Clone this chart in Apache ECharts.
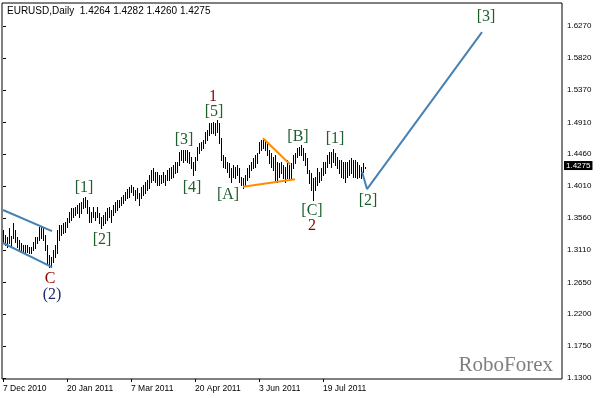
<!DOCTYPE html>
<html>
<head>
<meta charset="utf-8">
<script src="https://cdn.jsdelivr.net/npm/echarts@6/dist/echarts.min.js"></script>
<style>html,body{margin:0;padding:0;background:#fff;}#c{width:601px;height:398px;}</style>
</head>
<body>
<div id="c"></div>
<script>
// Daily bar highs / lows (EURUSD), one bar per trading day starting 7 Dec 2010
var barHigh = [
1.3389,1.3319,1.3295,1.3413,1.3305,1.3493,1.3389,1.3295,1.3248,1.3201,
1.3177,1.3177,1.3177,1.3153,1.3153,1.3224,1.3286,1.3286,1.3436,1.3436,
1.3413,1.3319,1.3177,1.3036,1.3012,1.3107,1.3177,1.3389,1.3460,1.3460,
1.3484,1.3507,1.3555,1.3648,1.3696,1.3696,1.3718,1.3742,1.3766,1.3789,
1.3837,1.3860,1.3813,1.3718,1.3648,1.3718,1.3648,1.3718,1.3625,1.3577,
1.3601,1.3648,1.3696,1.3718,1.3672,1.3742,1.3789,1.3813,1.3813,1.3860,
1.3884,1.3930,1.3968,1.4001,1.4025,1.4001,1.3954,1.3978,1.3908,1.4001,
1.4025,1.4071,1.4095,1.4166,1.4237,1.4261,1.4213,1.4213,1.4166,1.4166,
1.4213,1.4166,1.4237,1.4261,1.4283,1.4307,1.4354,1.4354,1.4495,1.4519,
1.4519,1.4519,1.4519,1.4495,1.4424,1.4354,1.4424,1.4566,1.4614,1.4636,
1.4660,1.4778,1.4801,1.4896,1.4896,1.4919,1.4896,1.4943,1.4896,1.4685,
1.4448,1.4424,1.4354,1.4331,1.4261,1.4307,1.4283,1.4307,1.4261,1.4142,
1.4120,1.4166,1.4261,1.4307,1.4354,1.4402,1.4448,1.4472,1.4636,1.4660,
1.4685,1.4660,1.4636,1.4519,1.4472,1.4424,1.4448,1.4354,1.4331,1.4354,
1.4307,1.4283,1.4378,1.4307,1.4331,1.4448,1.4472,1.4543,1.4566,1.4590,
1.4543,1.4472,1.4402,1.4237,1.4190,1.4120,1.4142,1.4261,1.4213,1.4261,
1.4354,1.4354,1.4448,1.4495,1.4495,1.4529,1.4472,1.4424,1.4378,1.4378,
1.4354,1.4354,1.4354,1.4378,1.4402,1.4378,1.4378,1.4354,1.4307,1.4283,
1.4336,1.4282
];
var barLow = [
1.3224,1.3177,1.3153,1.3201,1.3153,1.3272,1.3224,1.3153,1.3107,1.3083,
1.3060,1.3083,1.3083,1.3060,1.3060,1.3107,1.3131,1.3201,1.3248,1.3272,
1.3248,1.3107,1.2919,1.2872,1.2867,1.2942,1.3012,1.3060,1.3248,1.3319,
1.3343,1.3365,1.3436,1.3507,1.3531,1.3577,1.3601,1.3625,1.3577,1.3625,
1.3696,1.3718,1.3625,1.3507,1.3507,1.3577,1.3531,1.3577,1.3484,1.3413,
1.3460,1.3484,1.3531,1.3577,1.3507,1.3601,1.3648,1.3672,1.3718,1.3742,
1.3766,1.3813,1.3841,1.3860,1.3930,1.3884,1.3813,1.3837,1.3742,1.3837,
1.3884,1.3908,1.3954,1.3978,1.4071,1.4095,1.4071,1.4025,1.4025,1.4049,
1.4071,1.4025,1.4095,1.4095,1.4120,1.4142,1.4190,1.4213,1.4307,1.4378,
1.4354,1.4378,1.4354,1.4331,1.4261,1.4166,1.4237,1.4378,1.4472,1.4519,
1.4543,1.4614,1.4660,1.4731,1.4755,1.4755,1.4731,1.4778,1.4614,1.4378,
1.4283,1.4261,1.4213,1.4142,1.4071,1.4142,1.4120,1.4166,1.4071,1.4025,
1.3978,1.4025,1.4095,1.4142,1.4237,1.4272,1.4283,1.4331,1.4472,1.4519,
1.4543,1.4519,1.4448,1.4331,1.4283,1.4237,1.4095,1.4071,1.4142,1.4190,
1.4120,1.4071,1.4120,1.4095,1.4120,1.4261,1.4331,1.4424,1.4448,1.4448,
1.4378,1.4307,1.4190,1.4049,1.3954,1.3813,1.3954,1.4025,1.4071,1.4095,
1.4166,1.4190,1.4283,1.4331,1.4283,1.4354,1.4307,1.4261,1.4190,1.4142,
1.4120,1.4071,1.4142,1.4166,1.4190,1.4142,1.4142,1.4120,1.4142,1.4120,
1.4208,1.4260
];

// Date tick labels (bar index -> label)
var dateTicks  = [0, 32, 64, 96, 128, 160];
var dateLabels = ['7 Dec 2010', '20 Jan 2011', '7 Mar 2011', '20 Apr 2011', '3 Jun 2011', '19 Jul 2011'];

// Price axis tick labels
var priceTicks = [1.6270, 1.5820, 1.5370, 1.4910, 1.4460, 1.4010, 1.3560, 1.3110, 1.2650, 1.2200, 1.1750, 1.1300];

// Header quote
var symbolName = 'EURUSD,Daily';
var lastOHLC = [1.4264, 1.4282, 1.4260, 1.4275];

// Drawn lines (bar index, price)
var channelUpperX = [0, 24.5],   channelUpperY = [1.3672, 1.3375];
var channelLowerX = [0, 24.5],   channelLowerY = [1.3206, 1.2867];
var triangleUpperX = [130, 143.5], triangleUpperY = [1.4684, 1.4317];
var triangleLowerX = [120, 146],   triangleLowerY = [1.3999, 1.4105];
var forecastX = [179.5, 182, 239.5], forecastY = [1.4213, 1.3968, 1.6185];

// Wave labels (bar index, price, text, kind)
var waveX    = [40.5, 49.5, 90.5, 94.5, 105.5, 105, 112.5, 147.5, 154.5, 154.5, 166, 182.5, 241.5, 23.5, 24.5];
var waveY    = [1.3990, 1.3248, 1.4660, 1.3990, 1.5056, 1.5267, 1.3884, 1.4710, 1.3665, 1.3446, 1.4680, 1.3806, 1.6397, 1.2705, 1.2480];
var waveText = ['[1]', '[2]', '[3]', '[4]', '[5]', '1', '[A]', '[B]', '[C]', '2', '[1]', '[2]', '[3]', 'C', '(2)'];
var waveKind = ['g', 'g', 'g', 'g', 'g', 'r', 'g', 'g', 'g', 'r', 'g', 'g', 'g', 'r', 'b'];

function pairs(xs, ys) { return xs.map(function (x, k) { return [x, ys[k]]; }); }

var bars = barHigh.map(function (h, i) { return [i, h, barLow[i]]; });

var kindStyle = {
  g: { color: '#1d5e2c', textShadowColor: '#c9a400', textShadowOffsetX: -1, textShadowOffsetY: 0, textShadowBlur: 0 },
  r: { color: '#8b0000' },
  b: { color: '#1c2a6b' }
};
var waveData = waveX.map(function (x, k) {
  var st = kindStyle[waveKind[k]];
  var lab = { show: true, formatter: waveText[k], position: 'inside', fontFamily: 'Liberation Serif', fontSize: 16, opacity: 1 };
  for (var key in st) lab[key] = st[key];
  return { value: [x, waveY[k]], label: lab };
});

var chart = echarts.init(document.getElementById('c'), null, { renderer: 'canvas' });
var lineBlue = '#4682b4';
chart.setOption({
  animation: false,
  backgroundColor: '#fff',
  grid: { left: 2, right: 39, top: 3, bottom: 19, show: true, borderColor: '#000', borderWidth: 1, backgroundColor: '#fff' },
  xAxis: {
    type: 'value', min: -0.5, max: 279.5,
    axisLine: { show: false },
    splitLine: { show: false },
    axisTick: { show: true, customValues: dateTicks, length: 3, lineStyle: { color: '#000' } },
    axisLabel: {
      customValues: dateTicks, align: 'left', margin: 5,
      fontFamily: 'Liberation Sans', fontSize: 8.5, color: '#000',
      formatter: function (v) { var k = dateTicks.indexOf(Math.round(v)); return k >= 0 ? dateLabels[k] : ''; }
    }
  },
  yAxis: {
    type: 'value', position: 'right', min: 1.1286, max: 1.6595, scale: true,
    axisLine: { show: false },
    splitLine: { show: false },
    axisTick: { show: true, customValues: priceTicks, length: 3, lineStyle: { color: '#000' } },
    axisLabel: {
      customValues: priceTicks, margin: 5,
      fontFamily: 'Liberation Sans', fontSize: 8, color: '#000',
      formatter: function (v) { return v.toFixed(4); }
    }
  },
  graphic: [
    { type: 'text', left: 7, top: 6, style: { text: symbolName + '  ' + lastOHLC.map(function (v) { return v.toFixed(4); }).join(' '), font: '10px "Liberation Sans"', fill: '#000' } },
    { type: 'text', right: 48, top: 355, style: { text: 'RoboForex', font: '21px "Liberation Serif"', fill: '#808080' } }
  ],
  series: [
    {
      type: 'custom', data: bars, clip: true,
      encode: { x: 0, y: [1, 2] },
      renderItem: function (params, api) {
        var p1 = api.coord([api.value(0), api.value(1)]);
        var p2 = api.coord([api.value(0), api.value(2)]);
        var px = Math.round(p1[0]) + 0.5;
        return { type: 'line', shape: { x1: px, y1: Math.round(p1[1]), x2: px, y2: Math.round(p2[1]) + 1 }, style: { stroke: '#000', lineWidth: 1 } };
      }
    },
    { type: 'line', data: pairs(channelUpperX, channelUpperY), symbol: 'none', lineStyle: { color: lineBlue, width: 2 } },
    { type: 'line', data: pairs(channelLowerX, channelLowerY), symbol: 'none', lineStyle: { color: lineBlue, width: 2 } },
    { type: 'line', data: pairs(triangleUpperX, triangleUpperY), symbol: 'none', lineStyle: { color: '#ff8c00', width: 2 } },
    { type: 'line', data: pairs(triangleLowerX, triangleLowerY), symbol: 'none', lineStyle: { color: '#ff8c00', width: 2 } },
    {
      type: 'line', data: pairs(forecastX, forecastY), symbol: 'none', lineStyle: { color: lineBlue, width: 2 },
      markLine: {
        silent: true, symbol: ['none', 'none'],
        lineStyle: { color: 'rgba(0,0,0,0)', width: 1, type: 'solid' },
        label: {
          show: true, position: 'end', distance: 2, formatter: lastOHLC[3].toFixed(4),
          backgroundColor: '#000', color: '#fff', padding: [1, 2, 0, 2],
          fontFamily: 'Liberation Sans', fontSize: 8
        },
        data: [{ yAxis: lastOHLC[3] }]
      }
    },
    {
      type: 'scatter', data: waveData, symbol: 'circle', symbolSize: 1, z: 5,
      itemStyle: { color: 'rgba(0,0,0,0)', opacity: 1 }
    }
  ]
});
</script>
</body>
</html>
